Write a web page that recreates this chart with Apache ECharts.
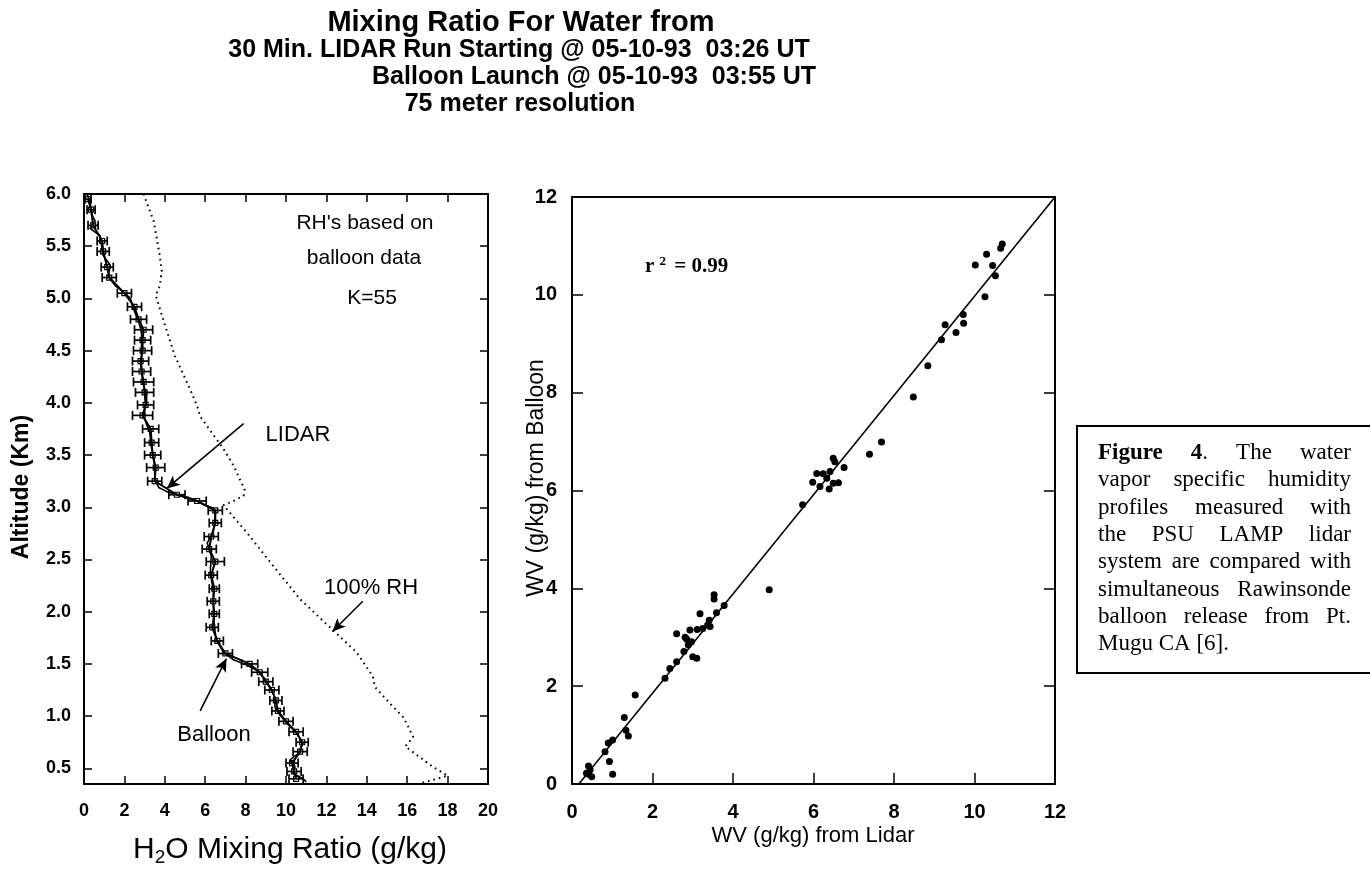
<!DOCTYPE html>
<html>
<head>
<meta charset="utf-8">
<script src="https://cdn.jsdelivr.net/npm/echarts@6/dist/echarts.min.js"></script>
<style>
  html, body { margin: 0; padding: 0; background: #fff; }
  #main { width: 1370px; height: 876px; }
</style>
</head>
<body>
<div id="main"></div>
<script>
// ---- left panel: altitude profiles (km vs g/kg) ----
var leftXTicks = [0, 2, 4, 6, 8, 10, 12, 14, 16, 18, 20];
var leftYTicks = [0.5, 1.0, 1.5, 2.0, 2.5, 3.0, 3.5, 4.0, 4.5, 5.0, 5.5, 6.0];

// balloon sounding
var balloonAlt = [6.00, 5.92, 5.80, 5.74, 5.67, 5.60, 5.53, 5.41, 5.32, 5.21, 5.12, 5.07, 5.00, 4.90, 4.78, 4.68, 4.52, 4.36, 4.20, 4.07, 4.02, 3.87, 3.72, 3.56, 3.40, 3.27, 3.19, 3.15, 3.11, 3.08, 3.03, 2.99, 2.93, 2.76, 2.66, 2.53, 2.37, 2.21, 2.05, 1.86, 1.73, 1.61, 1.54, 1.49, 1.44, 1.37, 1.28, 1.18, 1.09, 1.01, 0.93, 0.84, 0.74, 0.64, 0.58, 0.51, 0.45, 0.40, 0.37];
var balloonMix = [0.15, 0.30, 0.40, 0.55, 0.30, 0.80, 0.85, 0.95, 1.30, 1.20, 1.55, 1.90, 2.30, 2.45, 2.70, 2.85, 2.85, 2.85, 2.90, 3.10, 3.10, 2.95, 3.25, 3.35, 3.50, 3.50, 3.70, 4.10, 4.85, 5.40, 5.90, 6.40, 6.50, 6.40, 6.10, 6.30, 6.25, 6.40, 6.40, 6.45, 6.55, 6.90, 7.40, 8.05, 8.55, 8.90, 9.20, 9.45, 9.45, 9.70, 10.05, 10.50, 10.85, 10.60, 10.20, 10.45, 10.35, 10.85, 11.00];

// lidar retrieval with error bars
var lidarAlt = [5.95, 5.85, 5.70, 5.55, 5.45, 5.30, 5.20, 5.05, 4.92, 4.80, 4.70, 4.60, 4.50, 4.40, 4.30, 4.20, 4.10, 3.98, 3.88, 3.75, 3.62, 3.50, 3.38, 3.25, 3.12, 3.06, 2.97, 2.85, 2.72, 2.60, 2.48, 2.35, 2.22, 2.10, 1.98, 1.85, 1.72, 1.60, 1.50, 1.42, 1.33, 1.25, 1.15, 1.05, 0.95, 0.85, 0.75, 0.66, 0.55, 0.47, 0.40];
var lidarMix = [0.20, 0.35, 0.45, 0.90, 0.95, 1.15, 1.25, 2.00, 2.50, 2.70, 2.95, 2.90, 2.90, 2.80, 2.85, 2.95, 3.00, 3.05, 2.90, 3.30, 3.35, 3.40, 3.55, 3.50, 4.60, 5.60, 6.50, 6.50, 6.30, 6.20, 6.50, 6.30, 6.45, 6.40, 6.45, 6.35, 6.60, 7.00, 8.20, 8.70, 9.00, 9.30, 9.50, 9.60, 10.00, 10.50, 10.80, 10.70, 10.30, 10.40, 10.50];
var lidarErr = [0.15, 0.20, 0.25, 0.25, 0.30, 0.30, 0.35, 0.35, 0.35, 0.40, 0.45, 0.40, 0.45, 0.40, 0.45, 0.50, 0.45, 0.40, 0.50, 0.40, 0.35, 0.40, 0.45, 0.35, 0.40, 0.45, 0.35, 0.30, 0.35, 0.35, 0.45, 0.30, 0.25, 0.30, 0.25, 0.30, 0.30, 0.35, 0.40, 0.40, 0.35, 0.35, 0.30, 0.30, 0.35, 0.35, 0.30, 0.35, 0.30, 0.35, 0.35];

// 100% RH curve
var rhAlt = [6.00, 5.74, 5.41, 5.26, 5.12, 5.03, 4.78, 4.45, 4.13, 3.97, 3.87, 3.56, 3.40, 3.17, 3.11, 3.06, 3.02, 2.76, 2.43, 2.12, 1.80, 1.61, 1.38, 1.28, 1.12, 0.99, 0.90, 0.80, 0.71, 0.61, 0.51, 0.43, 0.39, 0.36];
var rhMix = [2.95, 3.45, 3.75, 3.85, 3.75, 3.55, 3.95, 4.50, 5.25, 5.60, 5.75, 6.90, 7.40, 7.95, 7.90, 7.40, 6.90, 8.05, 9.40, 10.70, 12.45, 13.50, 14.30, 14.40, 15.15, 15.80, 16.05, 16.30, 15.90, 16.60, 17.30, 18.00, 17.30, 16.70];

// ---- right panel: lidar vs balloon scatter ----
var rightTicks = [0, 2, 4, 6, 8, 10, 12];
var wvLidar = [10.69, 10.65, 10.30, 10.02, 10.45, 10.52, 10.26, 9.72, 9.27, 9.73, 9.54, 9.18, 8.84, 8.48, 7.69, 7.39, 6.76, 6.49, 6.53, 6.08, 6.24, 6.41, 6.33, 5.98, 6.62, 6.16, 6.39, 6.49, 5.73, 4.90, 3.53, 3.53, 3.78, 3.18, 3.59, 3.41, 3.37, 3.43, 3.25, 3.11, 2.93, 2.81, 2.85, 2.60, 2.97, 2.89, 2.78, 3.00, 3.10, 2.60, 2.43, 2.31, 1.57, 1.30, 1.34, 1.40, 1.01, 0.90, 0.82, 0.93, 1.01, 0.41, 0.45, 0.36, 0.49, 0.41];
var wvBalloon = [11.04, 10.95, 10.83, 10.61, 10.60, 10.39, 9.96, 9.60, 9.39, 9.42, 9.23, 9.08, 8.55, 7.91, 6.99, 6.74, 6.47, 6.66, 6.59, 6.35, 6.34, 6.39, 6.25, 6.17, 6.16, 6.08, 6.03, 6.15, 5.71, 3.97, 3.87, 3.78, 3.65, 3.48, 3.50, 3.35, 3.25, 3.22, 3.18, 3.16, 3.15, 3.00, 2.96, 3.07, 2.91, 2.84, 2.71, 2.60, 2.57, 2.50, 2.36, 2.16, 1.82, 1.36, 1.10, 0.98, 0.90, 0.84, 0.66, 0.46, 0.20, 0.37, 0.29, 0.22, 0.15, 0.20];
var fitX = [0.17, 12.0];
var fitY = [0.0, 12.0];

var captionLines = [
  '*Figure* *4*.  The water',
  'vapor specific humidity',
  'profiles measured with',
  'the PSU LAMP lidar',
  'system are compared with',
  'simultaneous Rawinsonde',
  'balloon release from Pt.',
  'Mugu CA [6].'
];

var SANS = '"Liberation Sans", Arial, sans-serif';
var SERIF = '"Liberation Serif", "Times New Roman", serif';

function pairs(xs, ys) {
  return xs.map(function (x, i) { return [x, ys[i]]; });
}

function label(text, x, y, size, extra) {
  var st = { text: text, font: size + 'px ' + SANS, fill: '#000', align: 'center', verticalAlign: 'middle' };
  for (var k in extra) st[k] = extra[k];
  return { type: 'text', x: x, y: y, style: st };
}

// justified caption, measured on a canvas and laid out as graphic text
function captionGraphics() {
  var ctx = document.createElement('canvas').getContext('2d');
  var size = 23, left = 1098, right = 1351, top0 = 453, step = 27.3;
  var out = [];
  function segs(tok) {
    var parts = tok.split('*'), res = [];
    for (var i = 0; i < parts.length; i++) {
      if (parts[i]) res.push({ t: parts[i], b: i % 2 === 1 });
    }
    return res;
  }
  function width(s) {
    var w = 0;
    s.forEach(function (p) {
      ctx.font = (p.b ? 'bold ' : '') + size + 'px ' + SERIF;
      w += ctx.measureText(p.t).width;
    });
    return w;
  }
  captionLines.forEach(function (line, li) {
    var words = line.split(/\s+/).map(segs);
    var ws = words.map(width);
    var total = ws.reduce(function (a, b) { return a + b; }, 0);
    var gap;
    if (li === captionLines.length - 1) {
      ctx.font = size + 'px ' + SERIF;
      gap = ctx.measureText(' ').width;
    } else {
      gap = (right - left - total) / (words.length - 1);
    }
    var x = left;
    words.forEach(function (w, wi) {
      var rich = w.map(function (p) { return '{' + (p.b ? 'b' : 'r') + '|' + p.t + '}'; }).join('');
      out.push({
        type: 'text', x: x, y: top0 + li * step,
        style: {
          text: rich, verticalAlign: 'middle', fill: '#000',
          rich: {
            r: { fontFamily: SERIF, fontSize: size, fill: '#000' },
            b: { fontFamily: SERIF, fontSize: size, fontWeight: 'bold', fill: '#000' }
          }
        }
      });
      x += ws[wi] + gap;
    });
  });
  return out;
}

var chart = echarts.init(document.getElementById('main'));

function axisBase(extra) {
  var a = {
    type: 'value',
    splitLine: { show: false },
    axisLine: { show: true, onZero: false, lineStyle: { color: '#000', width: 2 } },
    axisTick: { show: true, inside: true, length: 8, lineStyle: { color: '#000', width: 1.5 } },
    axisLabel: { color: '#000', fontFamily: SANS, fontWeight: 'bold', fontSize: 18 }
  };
  for (var k in extra) a[k] = extra[k];
  return a;
}

var option = {
  backgroundColor: '#fff',
  animation: false,
  grid: [
    { left: 84, top: 194, width: 404, height: 590, outerBoundsMode: 'none' },
    { left: 572, top: 197, width: 483, height: 587, outerBoundsMode: 'none' }
  ],
  xAxis: [
    axisBase({
      gridIndex: 0, position: 'bottom', min: 0, max: 20, interval: 2,
      axisLabel: { color: '#000', fontFamily: SANS, fontWeight: 'bold', fontSize: 18, margin: 18 }
    }),
    axisBase({ gridIndex: 0, position: 'top', min: 0, max: 20, interval: 2, axisLabel: { show: false } }),
    axisBase({
      gridIndex: 1, position: 'bottom', min: 0, max: 12, interval: 2,
      axisTick: { show: true, inside: true, length: 11, lineStyle: { color: '#000', width: 1.5 } },
      axisLabel: { color: '#000', fontFamily: SANS, fontWeight: 'bold', fontSize: 20, margin: 18 }
    }),
    axisBase({ gridIndex: 1, position: 'top', min: 0, max: 12, interval: 2, axisTick: { show: false }, axisLabel: { show: false } })
  ],
  yAxis: [
    axisBase({
      gridIndex: 0, position: 'left', min: 0.35, max: 6.0,
      axisTick: { show: true, inside: true, length: 8, customValues: leftYTicks, lineStyle: { color: '#000', width: 1.5 } },
      axisLabel: {
        color: '#000', fontFamily: SANS, fontWeight: 'bold', fontSize: 18, margin: 13,
        customValues: leftYTicks, formatter: function (v) { return v.toFixed(1); }
      }
    }),
    axisBase({
      gridIndex: 0, position: 'right', min: 0.35, max: 6.0,
      axisTick: { show: true, inside: true, length: 8, customValues: leftYTicks, lineStyle: { color: '#000', width: 1.5 } },
      axisLabel: { show: false }
    }),
    axisBase({
      gridIndex: 1, position: 'left', min: 0, max: 12, interval: 2,
      axisTick: { show: true, inside: true, length: 11, lineStyle: { color: '#000', width: 1.5 } },
      axisLabel: { color: '#000', fontFamily: SANS, fontWeight: 'bold', fontSize: 20, margin: 15 }
    }),
    axisBase({
      gridIndex: 1, position: 'right', min: 0, max: 12, interval: 2,
      axisTick: { show: true, inside: true, length: 11, lineStyle: { color: '#000', width: 1.5 } },
      axisLabel: { show: false }
    })
  ],
  series: [
    {
      name: 'Balloon', type: 'line', xAxisIndex: 0, yAxisIndex: 0,
      data: pairs(balloonMix, balloonAlt), symbol: 'none', silent: true,
      lineStyle: { color: '#000', width: 1.6, type: 'solid' }
    },
    {
      name: 'LIDAR', type: 'line', xAxisIndex: 0, yAxisIndex: 0,
      data: pairs(lidarMix, lidarAlt), symbol: 'rect', symbolSize: 5, silent: true,
      itemStyle: { color: 'rgba(0,0,0,0)', borderColor: '#000', borderWidth: 1.2 },
      lineStyle: { color: '#000', width: 2, type: 'solid' }
    },
    {
      name: 'LIDAR error', type: 'custom', xAxisIndex: 0, yAxisIndex: 0, silent: true,
      data: lidarMix.map(function (m, i) { return [m, lidarAlt[i], lidarErr[i]]; }),
      renderItem: function (params, api) {
        var m = api.value(0), a = api.value(1), e = api.value(2);
        var l = api.coord([m - e, a]), r = api.coord([m + e, a]);
        var st = { stroke: '#000', lineWidth: 1.7 };
        return {
          type: 'group',
          children: [
            { type: 'line', shape: { x1: l[0], y1: l[1], x2: r[0], y2: r[1] }, style: st },
            { type: 'line', shape: { x1: l[0], y1: l[1] - 4.5, x2: l[0], y2: l[1] + 4.5 }, style: st },
            { type: 'line', shape: { x1: r[0], y1: r[1] - 4.5, x2: r[0], y2: r[1] + 4.5 }, style: st }
          ]
        };
      }
    },
    {
      name: '100% RH', type: 'line', xAxisIndex: 0, yAxisIndex: 0,
      data: pairs(rhMix, rhAlt), symbol: 'none', silent: true,
      lineStyle: { color: '#000', width: 2, type: [1.6, 4] },
      markLine: {
        silent: true, symbol: ['none', 'arrow'], symbolSize: [9, 13],
        label: { show: false },
        lineStyle: { color: '#000', width: 1.6, type: 'solid' },
        data: [
          [{ coord: [13.8, 2.10] }, { coord: [12.3, 1.81] }],
          [{ coord: [7.9, 3.80] }, { coord: [4.1, 3.18] }],
          [{ coord: [5.75, 1.05] }, { coord: [7.05, 1.55] }]
        ]
      }
    },
    {
      name: 'WV', type: 'scatter', xAxisIndex: 2, yAxisIndex: 2,
      data: pairs(wvLidar, wvBalloon), symbol: 'circle', symbolSize: 7, silent: true,
      itemStyle: { color: '#000', opacity: 1 }
    },
    {
      name: 'fit', type: 'line', xAxisIndex: 2, yAxisIndex: 2,
      data: pairs(fitX, fitY), symbol: 'none', silent: true,
      lineStyle: { color: '#000', width: 1.6, type: 'solid' }
    }
  ],
  graphic: [
    label('Mixing Ratio For Water from', 521, 23, 29, { font: 'bold 29px ' + SANS }),
    label('30 Min. LIDAR Run Starting @ 05-10-93  03:26 UT', 519, 50, 25, { font: 'bold 25px ' + SANS }),
    label('Balloon Launch @ 05-10-93  03:55 UT', 816, 77, 25, { font: 'bold 25px ' + SANS, align: 'right' }),
    label('75 meter resolution', 520, 104, 25, { font: 'bold 25px ' + SANS }),

    label("RH's based on", 365, 223, 21),
    label('balloon data', 364, 258, 21),
    label('K=55', 372, 298, 21),
    label('LIDAR', 298, 435, 22),
    label('100% RH', 371, 588, 22),
    label('Balloon', 214, 735, 22),

    // axis titles
    label('Altitude (Km)', 22, 487, 23, { font: 'bold 23px ' + SANS }),
    {
      type: 'text', x: 290, y: 850,
      style: {
        text: '{a|H}{s|2}{a|O Mixing Ratio (g/kg)}', align: 'center', verticalAlign: 'middle',
        rich: {
          a: { fontFamily: SANS, fontSize: 30, fill: '#000' },
          s: { fontFamily: SANS, fontSize: 19, fill: '#000', padding: [16, 0, 0, 0] }
        }
      }
    },
    label('WV (g/kg) from Balloon', 537, 478, 23),
    label('WV (g/kg) from Lidar', 813, 836, 22),

    {
      type: 'text', x: 645, y: 267,
      style: {
        text: '{r|r }{s|2}{r| = 0.99}', verticalAlign: 'middle',
        rich: {
          r: { fontFamily: SERIF, fontSize: 21, fontWeight: 'bold', fill: '#000' },
          s: { fontFamily: SERIF, fontSize: 13, fontWeight: 'bold', fill: '#000', padding: [0, 3, 10, 0] }
        }
      }
    },

    { type: 'rect', shape: { x: 1077, y: 426, width: 340, height: 247 }, style: { fill: 'none', stroke: '#000', lineWidth: 2 } }
  ].concat(captionGraphics())
};

// rotate the two vertical axis titles
option.graphic[10].rotation = Math.PI / 2;
option.graphic[12].rotation = Math.PI / 2;

chart.setOption(option);
</script>
</body>
</html>
